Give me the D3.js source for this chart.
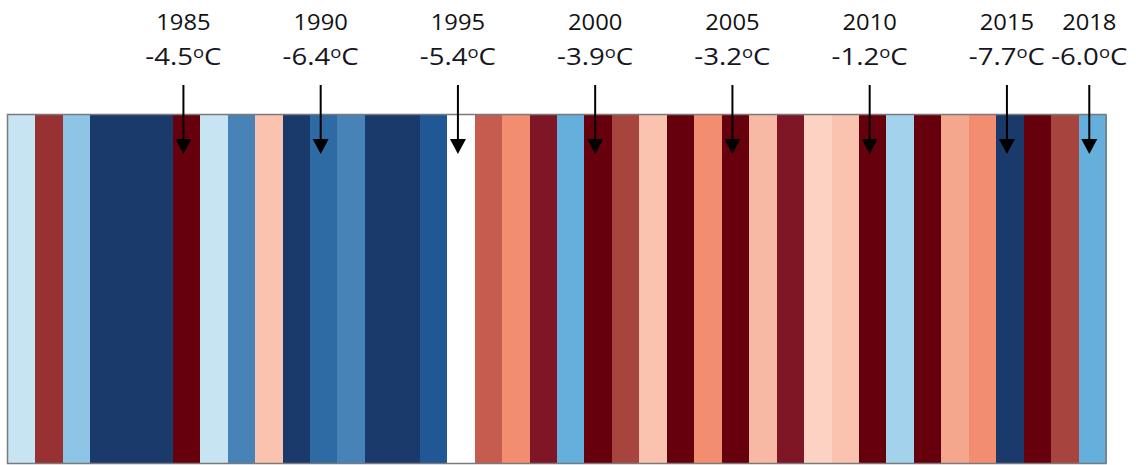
<!DOCTYPE html>
<html>
<head>
<meta charset="utf-8">
<script src="https://cdn.jsdelivr.net/npm/d3@7"></script>
<style>
  html, body { margin: 0; padding: 0; background: #ffffff; }
  svg { display: block; }
</style>
</head>
<body>
<svg id="chart" width="1136" height="465"></svg>
<script>
// ---- data ----
const years = d3.range(1979, 2019);
// estimated annual mean temperature (°C), read from stripe colours
const temps = [
  -5.5, -4.7, -5.8, -7.0, -7.2, -6.9, -4.5, -5.5, -6.1, -5.25,
  -6.8, -6.4, -6.2, -7.0, -6.9, -6.5, -5.4, -4.9, -5.0, -4.6,
  -5.9, -3.9, -4.8, -5.25, -4.3, -5.0, -3.2, -5.15, -4.6, -5.3,
  -5.25, -1.2, -5.65, -4.2, -5.1, -5.0, -7.7, -4.0, -4.8, -6.0
];
const labelYears = [1985, 1990, 1995, 2000, 2005, 2010, 2015, 2018];
const labelTemps = ["-4.5", "-6.4", "-5.4", "-3.9", "-3.2", "-1.2", "-7.7", "-6.0"];

// ---- colour scale (cold -> warm) ----
const thresholds = [-6.65, -6.45, -6.25, -6.05, -5.85, -5.7, -5.58, -5.46, -5.35,
                    -5.28, -5.2, -5.12, -5.05, -4.95, -4.85, -4.75, -4.67, -4.55];
const palette = ["#1b3a6c", "#1f5895", "#2e6aa3", "#4783b6", "#64afdc", "#8ec5e6",
                 "#a2d2ec", "#c6e4f2", "#ffffff", "#fcd2c2", "#f9c3af", "#f7b9a4",
                 "#f5a78e", "#f28d70", "#c65b50", "#a8443e", "#983132", "#7e1626", "#67000d"];
const color = d3.scaleThreshold().domain(thresholds).range(palette);

// ---- layout ----
const svg = d3.select("#chart");
const mLeft = 8, mRight = 1106, mTop = 115, mBottom = 463;
const x = d3.scaleBand().domain(years).range([mLeft, mRight]).padding(0);
const arrowOffset = -3;

const data = years.map((y, i) => ({ year: y, t: temps[i] }));

svg.append("g").attr("shape-rendering", "crispEdges")
  .selectAll("rect")
  .data(data)
  .join("rect")
  .attr("x", d => x(d.year))
  .attr("y", mTop)
  .attr("width", x.bandwidth() + 0.6)
  .attr("height", mBottom - mTop)
  .attr("fill", d => color(d.t));

// frame
svg.append("rect")
  .attr("x", mLeft - 0.5).attr("y", mTop - 0.5)
  .attr("width", mRight - mLeft + 0.5).attr("height", mBottom - mTop + 1)
  .attr("fill", "none").attr("stroke", "#7a7a7a").attr("stroke-width", 1.5);

// labels + arrows
const lab = labelYears.map((y, i) => ({ year: y, t: labelTemps[i] }));
const g = svg.append("g").selectAll("g").data(lab).join("g")
  .attr("transform", d => `translate(${x(d.year) + x.bandwidth() / 2 + arrowOffset},0)`);

const font = "'Open Sans', 'Liberation Sans', sans-serif";

g.append("text")
  .attr("transform", "translate(0,30) scale(1.08,1)")
  .attr("text-anchor", "middle")
  .attr("font-family", font)
  .attr("font-size", 22)
  .attr("fill", "#111")
  .text(d => d.year);

const t2 = g.append("text")
  .attr("transform", "translate(0,65) scale(1.15,1)")
  .attr("text-anchor", "middle")
  .attr("font-family", font)
  .attr("font-size", 24)
  .attr("fill", "#16161e");
t2.append("tspan").text(d => d.t);
t2.append("tspan").attr("font-size", 16).attr("dy", -7).text("o");
t2.append("tspan").attr("dy", 7).text("C");

g.append("line")
  .attr("x1", 0).attr("x2", 0).attr("y1", 85).attr("y2", 141)
  .attr("stroke", "#000").attr("stroke-width", 2);
g.append("path")
  .attr("d", "M-8,139 L8,139 L0,154 Z")
  .attr("fill", "#000");
</script>
</body>
</html>
